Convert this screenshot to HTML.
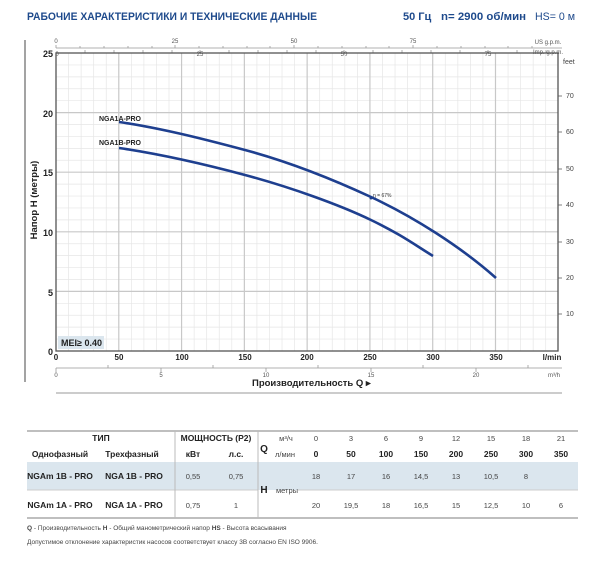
<!DOCTYPE html>
<html><head><meta charset="utf-8"><style>
body{margin:0;background:#fff;width:600px;height:567px;overflow:hidden;font-family:"Liberation Sans",sans-serif}
</style></head><body>
<svg width="600" height="567" xmlns="http://www.w3.org/2000/svg" font-family="Liberation Sans, sans-serif">
<text x="27" y="20" font-size="11" font-weight="bold" fill="#1e4a8c" textLength="290" lengthAdjust="spacingAndGlyphs">РАБОЧИЕ ХАРАКТЕРИСТИКИ И ТЕХНИЧЕСКИЕ ДАННЫЕ</text>
<text x="403" y="20" font-size="11" font-weight="bold" fill="#1e4a8c">50 Гц</text>
<text x="441" y="20" font-size="11" font-weight="bold" fill="#1e4a8c" textLength="85" lengthAdjust="spacingAndGlyphs">n= 2900 об/мин</text>
<text x="535" y="20" font-size="11" fill="#1e4a8c" textLength="40" lengthAdjust="spacingAndGlyphs">HS= 0 м</text>
<line x1="25" y1="40" x2="25" y2="382" stroke="#666" stroke-width="1.2"/>
<text transform="translate(37,200) rotate(-90)" text-anchor="middle" font-size="9.5" font-weight="bold" fill="#222">Напор H (метры)</text>
<g stroke="#999" stroke-width="0.8">
<line x1="56" y1="48" x2="562" y2="48"/>
<line x1="56" y1="368" x2="562" y2="368"/>
</g>
<g font-size="6" fill="#555" text-anchor="middle">
<text x="56" y="43">0</text><text x="175" y="43">25</text><text x="294" y="43">50</text><text x="413" y="43">75</text>
<text x="548" y="44">US g.p.m.</text>
<text x="57" y="56">0</text><text x="200" y="56">25</text><text x="344" y="56">50</text><text x="488" y="56">75</text>
<text x="548" y="54">Imp. g.p.m.</text>
<text x="56" y="377">0</text><text x="161" y="377">5</text><text x="266" y="377">10</text><text x="371" y="377">15</text><text x="476" y="377">20</text>
<text x="554" y="377">m³/h</text>
</g>
<g stroke="#999" stroke-width="0.8">
<path d="M56 48v-3M80 48v-2M104 48v-2M128 48v-2M152 48v-2M175 48v-3M199 48v-2M223 48v-2M247 48v-2M270 48v-2M294 48v-3M318 48v-2M342 48v-2M366 48v-2M389 48v-2M413 48v-3M437 48v-2M461 48v-2M485 48v-2M508 48v-2M532 48v-2"/>
<path d="M85 53v-3M114 53v-3M143 53v-3M172 53v-3M200 53v-3M229 53v-3M258 53v-3M287 53v-3M316 53v-3M344 53v-3M373 53v-3M402 53v-3M431 53v-3M460 53v-3M488 53v-3M517 53v-3M546 53v-3"/>
<path d="M56 368v4M108 368v-3M161 368v4M213 368v-3M266 368v4M318 368v-3M371 368v4M423 368v-3M476 368v4M528 368v-3"/>
</g>
<g stroke="#e6e6e6" stroke-width="0.7" id="minor"></g>
<g id="grid"></g>
<rect x="56" y="53" width="502" height="298" fill="none" stroke="#555" stroke-width="1.3"/>
<rect x="58" y="336" width="46" height="13" fill="#dbe6ee"/>
<text x="61" y="346" font-size="9" font-weight="bold" fill="#222">MEI≥ 0.40</text>
<g font-size="9" font-weight="bold" fill="#222" text-anchor="end">
<text x="53" y="57">25</text><text x="53" y="117">20</text><text x="53" y="176">15</text><text x="53" y="236">10</text><text x="53" y="296">5</text><text x="53" y="355">0</text>
</g>
<g font-size="8" font-weight="bold" fill="#222" text-anchor="middle">
<text x="56" y="360">0</text><text x="119" y="360">50</text><text x="182" y="360">100</text><text x="245" y="360">150</text><text x="307" y="360">200</text><text x="370" y="360">250</text><text x="433" y="360">300</text><text x="496" y="360">350</text><text x="552" y="360">l/min</text>
</g>
<g font-size="7" fill="#444">
<text x="563" y="64">feet</text><text x="566" y="98">70</text><text x="566" y="134">60</text><text x="566" y="171">50</text><text x="566" y="207">40</text><text x="566" y="244">30</text><text x="566" y="280">20</text><text x="566" y="316">10</text>
</g>
<g stroke="#555" stroke-width="0.8"><path d="M558 96h4M558 132h4M558 169h4M558 205h4M558 242h4M558 278h4M558 314h4"/></g>
<text x="252" y="386" font-size="9.5" font-weight="bold" fill="#222">Производительность Q ▸</text>
<line x1="56" y1="393" x2="562" y2="393" stroke="#999" stroke-width="1"/>
<path d="M119 122 C160 128 200 138 245 150 S330 178 371 197 S460 246 496 278" fill="none" stroke="#1e3f8f" stroke-width="2.6"/>
<path d="M119 148 C160 154 200 163 245 175 S340 205 371 220 S415 245 433 256" fill="none" stroke="#1e3f8f" stroke-width="2.6"/>
<circle cx="371" cy="198" r="1.5" fill="#1e3f8f"/>
<text x="373" y="197" font-size="5" fill="#333">η = 67%</text>
<text x="99" y="121" font-size="7" font-weight="bold" fill="#222">NGA1A-PRO</text>
<text x="99" y="145" font-size="7" font-weight="bold" fill="#222">NGA1B-PRO</text>
<rect x="27" y="462" width="551" height="28" fill="#dbe6ee"/>
<line x1="27" y1="431" x2="578" y2="431" stroke="#999" stroke-width="1.2"/>
<line x1="27" y1="518" x2="578" y2="518" stroke="#999" stroke-width="1.2"/>
<line x1="27" y1="490" x2="258" y2="490" stroke="#ccc"/>
<line x1="298" y1="490" x2="578" y2="490" stroke="#ccc"/>
<line x1="175" y1="431" x2="175" y2="518" stroke="#bbb"/>
<line x1="258" y1="431" x2="258" y2="518" stroke="#bbb"/>
<g font-size="8.5" font-weight="bold" fill="#222" text-anchor="middle">
<text x="101" y="441">ТИП</text><text x="216" y="441">МОЩНОСТЬ (P2)</text>
<text x="60" y="457">Однофазный</text><text x="132" y="457">Трехфазный</text>
<text x="193" y="457">кВт</text><text x="236" y="457">л.с.</text>
<text x="264" y="452" font-size="10">Q</text>
<text x="316" y="457">0</text><text x="351" y="457">50</text><text x="386" y="457">100</text><text x="421" y="457">150</text><text x="456" y="457">200</text><text x="491" y="457">250</text><text x="526" y="457">300</text><text x="561" y="457">350</text>
<text x="60" y="479">NGAm 1B - PRO</text><text x="134" y="479">NGA 1B - PRO</text>
<text x="60" y="508">NGAm 1A - PRO</text><text x="134" y="508">NGA 1A - PRO</text>
<text x="264" y="493" font-size="10">H</text>
</g>
<g font-size="7.5" fill="#444" text-anchor="middle">
<text x="286" y="441">м³/ч</text><text x="285" y="457">л/мин</text>
<text x="316" y="441">0</text><text x="351" y="441">3</text><text x="386" y="441">6</text><text x="421" y="441">9</text><text x="456" y="441">12</text><text x="491" y="441">15</text><text x="526" y="441">18</text><text x="561" y="441">21</text>
<text x="287" y="493">метры</text>
<text x="193" y="479">0,55</text><text x="236" y="479">0,75</text>
<text x="193" y="508">0,75</text><text x="236" y="508">1</text>
<text x="316" y="479">18</text><text x="351" y="479">17</text><text x="386" y="479">16</text><text x="421" y="479">14,5</text><text x="456" y="479">13</text><text x="491" y="479">10,5</text><text x="526" y="479">8</text>
<text x="316" y="508">20</text><text x="351" y="508">19,5</text><text x="386" y="508">18</text><text x="421" y="508">16,5</text><text x="456" y="508">15</text><text x="491" y="508">12,5</text><text x="526" y="508">10</text><text x="561" y="508">6</text>
</g>
<text x="27" y="530" font-size="6.5" fill="#444"><tspan font-weight="bold">Q</tspan> - Производительность  <tspan font-weight="bold">H</tspan> - Общий манометрический напор  <tspan font-weight="bold">HS</tspan> - Высота всасывания</text>
<text x="27" y="544" font-size="6.5" fill="#444">Допустимое отклонение характеристик насосов соответствует классу 3B согласно EN ISO 9906.</text>
<script>
(function(){var ns="http://www.w3.org/2000/svg",g=document.getElementById("grid"),m=document.getElementById("minor");
function L(p,x1,y1,x2,y2,c,w){var l=document.createElementNS(ns,"line");l.setAttribute("x1",x1);l.setAttribute("y1",y1);l.setAttribute("x2",x2);l.setAttribute("y2",y2);l.setAttribute("stroke",c);l.setAttribute("stroke-width",w);p.appendChild(l);}
for(var q=10;q<400;q+=10){var x=56+q*1.2557;if(q%50==0)L(g,x,53,x,351,"#c8c8c8",1.2);else L(m,x,53,x,351,"#e6e6e6",0.7);}
for(var h=1;h<25;h++){var y=351-h*11.92;if(h%5==0)L(g,56,y,558,y,"#c8c8c8",1.2);else L(m,56,y,558,y,"#e6e6e6",0.7);}
})();
</script>
</svg>
</body></html>
